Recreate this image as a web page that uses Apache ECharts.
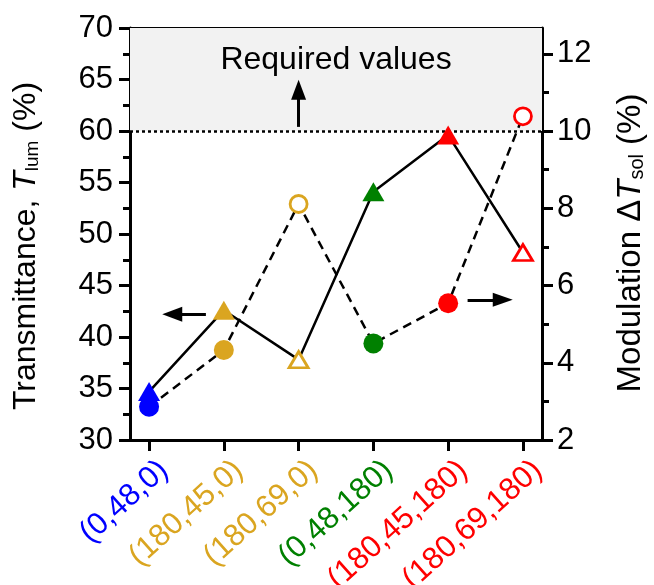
<!DOCTYPE html>
<html>
<head>
<meta charset="utf-8">
<script src="https://cdn.jsdelivr.net/npm/echarts@6/dist/echarts.min.js"></script>
<style>html,body{margin:0;padding:0;background:#fff;}#c{width:654px;height:585px;}</style>
</head>
<body>
<div id="c"></div>
<script>
// ---- data ----
var categories = ['(0,48,0)', '(180,45,0)', '(180,69,0)', '(0,48,180)', '(180,45,180)', '(180,69,180)'];
var catColors = ['#0000ff', '#daa520', '#daa520', '#008000', '#ff0000', '#ff0000'];
var filled = [true, true, false, true, true, false];
var tLum = [34.7, 42.6, 37.8, 54.1, 59.6, 48.2];     // left axis, triangles, solid
var dTsol = [2.86, 4.33, 8.11, 4.5, 5.54, 10.38];    // right axis, circles, dashed
var leftTicks = [30, 35, 40, 45, 50, 55, 60, 65, 70];
var rightTicks = [2, 4, 6, 8, 10, 12];
var rightMinor = [3, 5, 7, 9, 11];
var requiredLevel = 60;

var FONT = "'Liberation Sans', Arial, sans-serif";
var catIdx = categories.map(function (c, i) { return i; });
var LABEL_SHIFT = 0.2;
var labelPos = catIdx.map(function (i) { return i + LABEL_SHIFT; });

function pts(vals) { return vals.map(function (v, i) { return [i, v]; }); }

function markerData(vals, shape) {
  return vals.map(function (v, i) {
    var f = filled[i];
    var size = shape === 'triangle' ? (f ? [22, 19] : [19, 16]) : (f ? 20 : 17);
    return {
      value: [i, v],
      symbol: shape,
      symbolSize: size,
      itemStyle: f ? { color: catColors[i], borderWidth: 0, opacity: 1 }
                   : { color: '#ffffff', borderColor: catColors[i], borderWidth: 2.8, opacity: 1 }
    };
  });
}

var chart = echarts.init(document.getElementById('c'), null, { renderer: 'canvas' });

var axisLine = { show: true, onZero: false, lineStyle: { color: '#000', width: 3 } };

function titleRich(sz) {
  return {
    n: { fontSize: sz, fontFamily: FONT, color: '#000' },
    i: { fontSize: sz, fontFamily: FONT, fontStyle: 'italic', color: '#000' },
    s: { fontSize: Math.round(sz * 0.6), fontFamily: FONT, color: '#000', verticalAlign: 'bottom', padding: [13, 0, 0, 0] }
  };
}

var option = {
  animation: false,
  backgroundColor: '#fff',
  textStyle: { fontFamily: FONT },
  grid: { left: 130, right: 112, top: 28, bottom: 145, containLabel: false, outerBoundsMode: 'none' },
  xAxis: [
    {
      type: 'value', position: 'bottom', min: -0.255, max: 5.255,
      axisLine: axisLine,
      splitLine: { show: false },
      axisTick: { show: true, inside: false, length: 11, lineStyle: { width: 3, color: '#000' }, customValues: catIdx },
      axisLabel: {
        show: true, customValues: labelPos, rotate: 42, margin: 26,
        fontSize: 31, fontFamily: FONT, hideOverlap: false,
        formatter: function (v) { return categories[Math.round(v - LABEL_SHIFT)] || ''; },
        color: function (v) { return catColors[Math.round(v - LABEL_SHIFT)] || '#000'; }
      }
    },
    {
      type: 'value', position: 'top', min: -0.255, max: 5.255,
      axisLine: axisLine,
      splitLine: { show: false },
      axisTick: { show: true, inside: true, length: 10, lineStyle: { width: 3, color: '#000' }, customValues: catIdx },
      axisLabel: { show: false }
    }
  ],
  yAxis: [
    {
      type: 'value', position: 'left', min: 30, max: 70, interval: 5,
      axisLine: axisLine,
      splitLine: { show: false },
      axisTick: { show: true, inside: false, length: 11, lineStyle: { width: 3, color: '#000' } },
      minorTick: { show: true, splitNumber: 2, length: 7, lineStyle: { width: 3, color: '#000' } },
      axisLabel: { fontSize: 31, color: '#000', margin: 17, fontFamily: FONT },
      name: '{n|Transmittance, }{i|T}{s|lum}{n| (%)}',
      nameLocation: 'middle', nameRotate: 90, nameGap: 88,
      nameTextStyle: { rich: titleRich(32), padding: [0, 24, 0, 0] }
    },
    {
      type: 'value', position: 'right', min: 2, max: 2 + 32 / 3,
      axisLine: axisLine,
      splitLine: { show: false },
      axisTick: { show: true, inside: false, length: 11, lineStyle: { width: 3, color: '#000' }, customValues: rightTicks },
      axisLabel: { fontSize: 31, color: '#000', margin: 15, fontFamily: FONT, customValues: rightTicks },
      name: '{n|Modulation Δ}{i|T}{s|sol}{n| (%)}',
      nameLocation: 'middle', nameRotate: 90, nameGap: 72,
      nameTextStyle: { rich: titleRich(33), padding: [0, 18, 0, 0] }
    },
    {
      type: 'value', position: 'right', min: 2, max: 2 + 32 / 3,
      axisLine: { show: false, onZero: false },
      splitLine: { show: false },
      axisTick: { show: true, inside: false, length: 7, lineStyle: { width: 3, color: '#000' }, customValues: rightMinor },
      axisLabel: { show: false }
    }
  ],
  series: [
    {
      name: 'region', type: 'line', xAxisIndex: 0, yAxisIndex: 0, data: [], silent: true,
      markArea: {
        silent: true,
        itemStyle: { color: '#f2f2f2' },
        label: { show: true, position: 'insideTop', distance: 16, fontSize: 32, color: '#000', fontFamily: FONT, formatter: 'Required values' },
        data: [[{ yAxis: requiredLevel }, { yAxis: 70 }]]
      },
      markLine: {
        silent: true, symbol: ['none', 'none'], label: { show: false },
        lineStyle: { type: [3, 3], color: '#000', width: 2.5 },
        data: [{ yAxis: requiredLevel }]
      }
    },
    {
      name: 'Tlum', type: 'line', xAxisIndex: 0, yAxisIndex: 0, data: pts(tLum),
      showSymbol: false, symbol: 'none', z: 3,
      lineStyle: { color: '#000', width: 2.5, type: 'solid' },
      markLine: {
        silent: true, symbol: ['none', 'triangle'], symbolSize: [15, 20], label: { show: false },
        lineStyle: { color: '#000', width: 3, type: 'solid' }, itemStyle: { color: '#000' },
        data: [
          [{ coord: [2, 60.4] }, { coord: [2, 64.0] }],
          [{ coord: [0.76, 42.2] }, { coord: [0.31, 42.2] }]
        ]
      }
    },
    {
      name: 'dTsol', type: 'line', xAxisIndex: 0, yAxisIndex: 1, data: pts(dTsol),
      showSymbol: false, symbol: 'none', z: 3,
      lineStyle: { color: '#000', width: 2.5, type: [9, 6] },
      markLine: {
        silent: true, symbol: ['none', 'triangle'], symbolSize: [14, 20], label: { show: false },
        lineStyle: { color: '#000', width: 3, type: 'solid' }, itemStyle: { color: '#000' },
        data: [
          [{ coord: [4.26, 5.63] }, { coord: [4.73, 5.63] }]
        ]
      }
    },
    {
      name: 'dTsolMarkers', type: 'scatter', xAxisIndex: 0, yAxisIndex: 1, z: 5,
      itemStyle: { opacity: 1 },
      data: markerData(dTsol, 'circle')
    },
    {
      name: 'TlumMarkers', type: 'scatter', xAxisIndex: 0, yAxisIndex: 0, z: 6,
      itemStyle: { opacity: 1 },
      data: markerData(tLum, 'triangle')
    }
  ]
};
chart.setOption(option);
</script>
</body>
</html>
